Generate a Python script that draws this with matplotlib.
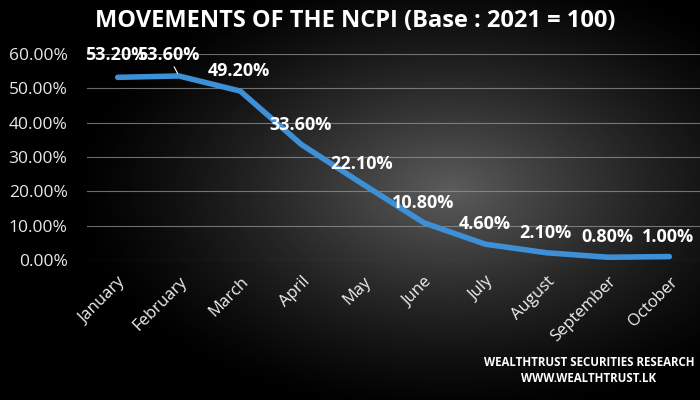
import numpy as np
import matplotlib.pyplot as plt
from matplotlib.colors import LinearSegmentedColormap

months = ["January", "February", "March", "April", "May", "June",
          "July", "August", "September", "October"]
ncpi = [53.2, 53.6, 49.2, 33.6, 22.1, 10.8, 4.6, 2.1, 0.8, 1.0]
yticks = [0, 10, 20, 30, 40, 50, 60]

W, H = 700, 400
fig = plt.figure(figsize=(7, 4), dpi=100)

# dark background with soft radial light
bg = fig.add_axes([0, 0, 1, 1])
yy, xx = np.mgrid[0:H, 0:W]
r = np.sqrt(((xx - 450) / 380.0) ** 2 + ((yy - 190) / 230.0) ** 2)
shade = np.clip(1 - r, 0, 1) ** 1.3
cmap = LinearSegmentedColormap.from_list("bgk", ["#000000", "#5c5c5c"])
bg.imshow(shade, cmap=cmap, vmin=0, vmax=1, aspect="auto", extent=[0, W, H, 0])
bg.set_axis_off()

# plot area in pixel coords: x 87..700, y 54..260
ax = fig.add_axes([87 / W, 1 - 260 / H, 613 / W, 206 / H])
ax.patch.set_alpha(0)
x = np.arange(len(months))
ax.plot(x, ncpi, color="#3d8fd6", lw=4, solid_joinstyle="round",
        solid_capstyle="round", zorder=3)
ax.set_xlim(-0.5, len(months) - 0.5)
ax.set_ylim(0, 60)
ax.set_yticks(yticks)
ax.set_yticklabels([f"{v:.2f}%" for v in yticks], fontsize=12.5,
                   color="#e8e8e8", family="Open Sans")
ax.set_xticks(x)
ax.set_xticklabels(months, rotation=45, ha="right", rotation_mode="anchor",
                   fontsize=12, color="#f0f0f0", family="Open Sans")
ax.tick_params(axis="y", length=0, pad=14)
ax.tick_params(axis="x", length=0, pad=10)
ax.grid(axis="y", color="#9a9a9a", lw=0.8, alpha=0.7)
ax.set_axisbelow(True)
for s in ax.spines.values():
    s.set_visible(False)

# label offsets in pixels (dpi 100 -> points = px * 0.72)
offs = [(-1, 22), (-11, 21)] + [(-1, 20)] * 8
for i, v in enumerate(ncpi):
    dx, dy = offs[i]
    kw = {}
    if i == 1:
        kw["arrowprops"] = dict(arrowstyle="-", color="white", lw=0.8,
                                shrinkA=0, shrinkB=2)
    ax.annotate(f"{v:.2f}%", (i, v), xytext=(dx * 0.72, dy * 0.72),
                textcoords="offset points", ha="center", va="center",
                fontsize=13, fontweight="bold", color="white",
                family="Open Sans", zorder=4, **kw)

fig.text(355 / W, 1 - 21 / H, "MOVEMENTS OF THE NCPI (Base : 2021 = 100)",
         ha="center", va="center", fontsize=17, fontweight="bold",
         color="white", family="Open Sans")
fig.text(589 / W, 1 - 363 / H, "WEALTHTRUST SECURITIES RESEARCH",
         ha="center", va="center", fontsize=8.3, fontweight="bold",
         color="white", family="Open Sans")
fig.text(589 / W, 1 - 378 / H, "WWW.WEALTHTRUST.LK", ha="center",
         va="center", fontsize=8.3, fontweight="bold", color="white",
         family="Open Sans")

fig.savefig("out.png", dpi=100)
